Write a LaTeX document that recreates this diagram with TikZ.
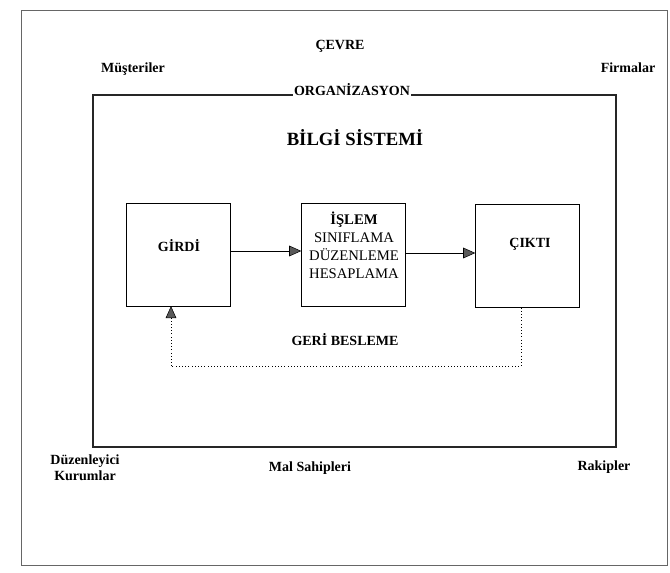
\documentclass[tikz,border=0pt]{standalone}
\usepackage{fontspec}
\setmainfont{Liberation Serif}
\usetikzlibrary{arrows.meta,positioning}
\tikzset{
  boxnode/.style={draw,thin,minimum width=78pt,minimum height=77pt,inner sep=0pt},
  lbl/.style={font=\bfseries\fontsize{10.5}{12}\selectfont,inner sep=1pt},
  tri/.style={-{Triangle[length=9pt,width=8pt,fill=black!65]}},
  orgline/.style={line width=1.5pt,black!85}
}
\begin{document}
\begin{tikzpicture}[x=0.75pt,y=-0.75pt]
  \useasboundingbox (0,0) rectangle (670,573);
  % outer frame
  \draw[black!60,thin] (21,10) rectangle (667,565);
  \node[lbl] (cevre) at (340,46) {ÇEVRE};
  \node[lbl] (musteri) at (133,69) {Müşteriler};
  \node[lbl] (firma) at (628,68) {Firmalar};
  \node[lbl,align=center] (duzen) at (85,468) {Düzenleyici\\Kurumlar};
  \node[lbl] (malsahip) at (310,468) {Mal Sahipleri};
  \node[lbl] (rakip) at (604,467) {Rakipler};
  % organization
  \draw[orgline] (93,95) rectangle (616,447);
  \node[lbl,fill=white,anchor=base,inner ysep=2pt,text depth=0pt] (org) at (352,96) {ORGANİZASYON};
  \node[lbl,font=\bfseries\fontsize{14}{16}\selectfont] (bilgi) at (355,138) {BİLGİ SİSTEMİ};
  % boxes
  \node[boxnode] (girdi) at (178.5,254.5) {};
  \node[boxnode] (islem) at (353.5,254.5) {};
  \node[boxnode] (cikti) at (527.5,256) {};
  \node[lbl] (girdilbl) at (179,246) {GİRDİ};
  \node[lbl] (ciktilbl) at (530,244) {ÇIKTI};
  \node[align=center,inner sep=0pt,font=\fontsize{11}{13.5}\selectfont,anchor=north] (islemlbl) at (354,212)
    {\textbf{İŞLEM}\\SINIFLAMA\\DÜZENLEME\\HESAPLAMA};
  \draw[tri] (girdi.east |- 0,251) -- (islem.west |- 0,251);
  \draw[tri] (islem.east |- 0,253) -- (cikti.west |- 0,253);
  % feedback
  \coordinate (fbr) at (521,366);
  \coordinate (fbl) at (171,366);
  \draw[dotted,thin] (cikti.south -| fbr) -- (fbr) -- (fbl);
  \draw[dotted,thin,tri] (fbl) -- (girdi.south -| fbl);
  \node[lbl] (geri) at (345,340) {GERİ BESLEME};
\end{tikzpicture}
\end{document}
